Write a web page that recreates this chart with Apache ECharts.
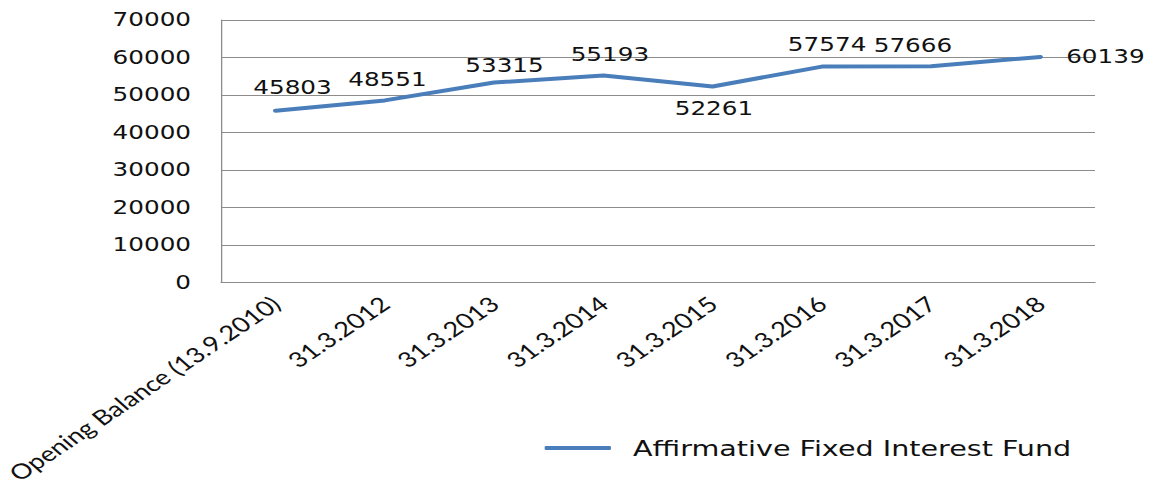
<!DOCTYPE html>
<html>
<head>
<meta charset="utf-8">
<script src="https://cdn.jsdelivr.net/npm/echarts/dist/echarts.min.js"></script>
<style>
  html, body { margin: 0; padding: 0; background: #fff; overflow: hidden; }
  #chart { width: 887px; height: 486px; transform: scaleX(1.29989); transform-origin: 0 0; }
</style>
</head>
<body>
<div id="chart"></div>
<script>
// ---- data ----
const categories = ['Opening Balance (13.9.2010)', '31.3.2012', '31.3.2013', '31.3.2014', '31.3.2015', '31.3.2016', '31.3.2017', '31.3.2018'];
const seriesName = 'Affirmative Fixed Interest Fund';
const values = [45803, 48551, 53315, 55193, 52261, 57574, 57666, 60139];
const yMin = 0, yMax = 70000, yStep = 10000;

// ---- label placement (style, not data) ----
const labelOffsets = [[13, -23], [2, -21], [8, -17], [5, -21], [1, 22], [4, -22], [-14, -21], [50, 0]];

const blue = '#4a7ebb';
const grid = '#8c8c8c';

const chart = echarts.init(document.getElementById('chart'), null, { renderer: 'svg' });
chart.setOption({
  animation: false,
  backgroundColor: '#ffffff',
  grid: { left: 170, right: 44.6, top: 20, bottom: 202, containLabel: false },
  xAxis: {
    type: 'category',
    data: categories,
    boundaryGap: true,
    axisLine: { show: true, lineStyle: { color: grid, width: 1 } },
    axisTick: { show: false },
    axisLabel: {
      rotate: 41, margin: 18, interval: 0,
      fontFamily: 'Lato', fontSize: 21, color: '#111'
    },
    splitLine: { show: false }
  },
  yAxis: {
    type: 'value',
    min: yMin, max: yMax, interval: yStep,
    axisLine: { show: true, lineStyle: { color: grid, width: 1 } },
    axisTick: { show: false },
    axisLabel: { margin: 23, fontFamily: 'DejaVu Sans', fontSize: 19, color: '#111', formatter: v => String(v) },
    splitLine: { show: true, lineStyle: { color: grid, width: 1 } }
  },
  legend: {
    show: true,
    left: 414, top: 432,
    icon: 'roundRect',
    itemWidth: 51, itemHeight: 4,
    textStyle: { fontFamily: 'DejaVu Sans', fontSize: 22, color: '#111', padding: [0, 0, 0, 12] },
    data: [seriesName]
  },
  series: [{
    name: seriesName,
    type: 'line',
    data: values.map((v, i) => ({
      value: v,
      label: { offset: labelOffsets[i] }
    })),
    showSymbol: true,
    symbol: 'circle',
    symbolSize: 1,
    itemStyle: { color: blue },
    lineStyle: { color: blue, width: 4, cap: 'round', join: 'round' },
    label: {
      show: true,
      position: 'inside',
      fontFamily: 'DejaVu Sans', fontSize: 19, color: '#111'
    }
  }]
});
</script>
</body>
</html>
